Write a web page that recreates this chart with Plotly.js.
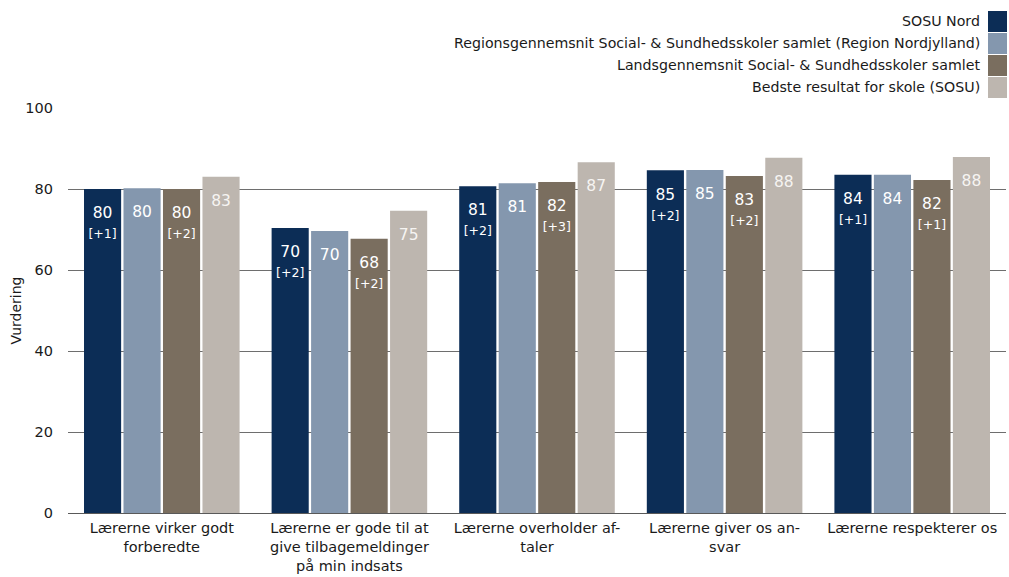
<!DOCTYPE html>
<html><head><meta charset="utf-8">
<script src="https://cdn.plot.ly/plotly-3.0.1.min.js"></script>
<style>body{margin:0;background:#fff}#c{width:1009px;height:577px}</style>
</head><body><div id="c"></div>
<script>
const categories = ["Lærerne virker godt<br>forberedte", "Lærerne er gode til at<br>give tilbagemeldinger<br>på min indsats", "Lærerne overholder af-<br>taler", "Lærerne giver os an-<br>svar", "Lærerne respekterer os"];
const seriesNames = ["SOSU Nord", "Regionsgennemsnit Social- & Sundhedsskoler samlet (Region Nordjylland)", "Landsgennemsnit Social- & Sundhedsskoler samlet", "Bedste resultat for skole (SOSU)"];
const sosuNord = [80.0, 70.4, 80.7, 84.6, 83.5];
const region = [80.2, 69.6, 81.4, 84.7, 83.5];
const lands = [80.0, 67.7, 81.7, 83.2, 82.2];
const bedste = [83.0, 74.6, 86.6, 87.7, 87.9];
const sosuNordDiff = ["+1", "+2", "+2", "+2", "+1"];
const landsDiff = ["+2", "+2", "+3", "+2", "+1"];
const colors = ["#0c2d56", "#8497ae", "#7a6e5f", "#bdb6af"];
const yTicks = [0, 20, 40, 60, 80, 100];

const FONT = "DejaVu Sans, Verdana, sans-serif";
const PAD = '<span style="font-size:7px"> </span><br>';
function labels(vals, diffs) {
  return vals.map((v, i) => PAD + Math.round(v) + (diffs ? '<br><span style="font-size:12.5px">[' + diffs[i] + ']</span>' : ''));
}
const allVals = [sosuNord, region, lands, bedste];
const allDiffs = [sosuNordDiff, null, landsDiff, null];
const traces = allVals.map((vals, k) => ({
  type: 'bar', x: categories, y: vals, name: seriesNames[k],
  marker: {color: colors[k]},
  text: labels(vals, allDiffs[k]), textposition: 'inside', insidetextanchor: 'end',
  textfont: {family: FONT, size: 15.5, color: k === 3 ? '#f6f4f2' : '#ffffff'},
  constraintext: 'none', textangle: 0, hoverinfo: 'none', showlegend: false
}));

const annotations = [], shapes = [];
seriesNames.forEach((n, k) => {
  const top = 11 + k * 22;
  annotations.push({xref: 'paper', yref: 'paper', x: (982 - 68) / 938, y: 1 + (108 - (top + 10)) / 405,
    xanchor: 'right', yanchor: 'middle', text: n, showarrow: false,
    font: {family: FONT, size: 14.2, color: '#1a1a1a'}});
  shapes.push({type: 'rect', xref: 'paper', yref: 'paper', x0: (988 - 68) / 938, x1: (1007 - 68) / 938,
    y0: 1 + (108 - (top + 21)) / 405, y1: 1 + (108 - top) / 405, fillcolor: colors[k], line: {width: 0}});
});

const layout = {
  width: 1009, height: 577,
  margin: {l: 68, r: 3, t: 108, b: 64, pad: 0},
  paper_bgcolor: '#fff', plot_bgcolor: '#fff',
  barmode: 'group', bargap: 0.158, bargroupgap: 0.06,
  font: {family: FONT, size: 14, color: '#1a1a1a'},
  xaxis: {type: 'category', showgrid: false, ticks: '', tickfont: {family: FONT, size: 14.5, color: '#1a1a1a'},
    showline: true, linecolor: '#595959', linewidth: 1, range: [-0.5, 4.5], fixedrange: true, ticklabelstandoff: 2},
  yaxis: {range: [0, 100], tickvals: yTicks, ticks: '', showgrid: true, gridcolor: '#6e6e6e', gridwidth: 1,
    zeroline: false, showline: false, tickfont: {family: FONT, size: 14.5, color: '#1a1a1a'}, ticklabelstandoff: 14,
    title: {text: 'Vurdering', font: {family: FONT, size: 14, color: '#1a1a1a'}, standoff: 0}},
  annotations: annotations, shapes: shapes, showlegend: false
};
Plotly.newPlot('c', traces, layout, {displayModeBar: false, staticPlot: true});
</script></body></html>
